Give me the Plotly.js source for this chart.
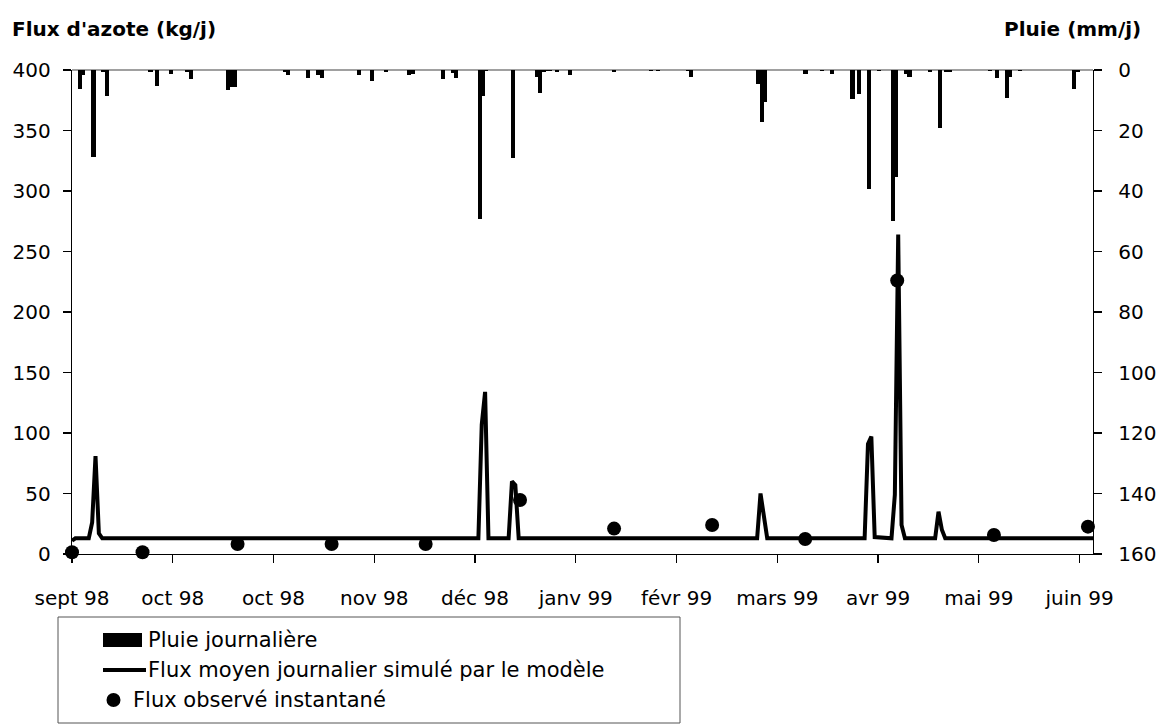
<!DOCTYPE html>
<html>
<head>
<meta charset="utf-8">
<script src="https://cdn.plot.ly/plotly-3.0.1.min.js"></script>
<style>
html,body{margin:0;padding:0;background:#ffffff;}
#chart{width:1163px;height:724px;}
</style>
</head>
<body>
<div id="chart"></div>
<script>
// ---- data (day 0 = 1 Sept 1998) ----
const tickDays   = [0, 30, 60, 90, 120, 150, 180, 210, 240, 270, 300];
const tickLabels = ['sept 98','oct 98','oct 98','nov 98','déc 98','janv 99','févr 99','mars 99','avr 99','mai 99','juin 99'];

// Daily rain (mm/j)
const rainDays = [2, 3, 6, 9, 10, 23, 25, 29, 34, 35, 46, 47, 48, 63, 64, 70, 73, 74, 85, 89, 93, 100, 101,
                  110, 113, 114, 121, 122, 123, 131, 138, 139, 140, 141, 142, 144, 148, 161, 172, 174, 183, 184,
                  204, 205, 206, 218, 223, 226, 232, 234, 237, 240, 244, 245, 248, 249, 255, 258, 260, 261,
                  273, 275, 278, 279, 282, 298, 299];
const rainMm   = [6.2, 1.8, 28.8, 0.5, 8.6, 0.7, 5.3, 1.2, 0.5, 3.1, 6.7, 5.6, 5.6, 0.6, 1.8, 2.5, 1.5, 2.6, 1.5, 3.7, 0.7, 1.5, 1.2,
                  3.1, 0.9, 2.5, 49.1, 8.7, 0.4, 29.1, 2.3, 7.5, 0.5, 0.4, 0.4, 0.5, 1.5, 0.7, 0.4, 0.4, 0.4, 2.3,
                  4.5, 17.2, 10.6, 1.2, 0.4, 1.2, 9.5, 7.8, 39.4, 0.4, 50.0, 35.4, 1.2, 2.3, 0.7, 19.1, 0.5, 0.5,
                  0.4, 2.5, 9.3, 2.3, 0.4, 6.2, 0.7];

// Simulated mean daily N flux (kg/j) – vertices of the curve
const fluxDays = [0, 1, 5, 6, 7, 8, 9, 121, 122, 123, 124, 130, 131, 132, 133, 204, 205, 206, 207,
                  236, 237, 238, 239, 244, 245, 246, 247, 248, 257, 258, 259, 260, 304];
const fluxSim  = [11, 13, 13, 26, 81, 17, 13, 13, 107, 134, 13, 13, 60, 57, 13, 13, 50, 30, 13,
                  13, 91, 97, 14, 13, 49, 264, 24, 13, 13, 35, 20, 13, 13];

// Observed instantaneous N flux (kg/j)
const obsDays = [0, 21, 49.3, 77.3, 105.3, 133.4, 161.4, 190.6, 218.3, 245.7, 274.5, 302.5];
const obsFlux = [1.5, 1.5, 8.3, 8.3, 8.3, 44.6, 21, 24, 12.4, 226, 15.7, 22.6];

const legendLabels = ['Pluie journalière', 'Flux moyen journalier simulé par le modèle', 'Flux observé instantané'];

// ---- layout helpers ----
const WIDTH = 1163, HEIGHT = 724;
const L = 72, R = 70, T = 70, B = 170;
const PW = WIDTH - L - R, PH = HEIGHT - T - B;
const px = x => (x - L) / PW;
const py = y => (T + PH - y) / PH;
const FONT = 'DejaVu Sans, Liberation Sans, Arial, sans-serif';
const FS = 20;
const LFS = 21;

const traces = [
  {
    type: 'bar', name: legendLabels[0],
    x: rainDays, y: rainMm, yaxis: 'y2',
    width: 1.25, offset: -0.25,
    marker: {color: '#000000', line: {width: 0}},
    hoverinfo: 'x+y'
  },
  {
    type: 'scatter', mode: 'lines', name: legendLabels[1],
    x: fluxDays, y: fluxSim,
    line: {color: '#000000', width: 4},
    cliponaxis: false
  },
  {
    type: 'scatter', mode: 'markers', name: legendLabels[2],
    x: obsDays, y: obsFlux,
    marker: {color: '#000000', size: 14, symbol: 'circle'},
    cliponaxis: false
  }
];

const axisCommon = {
  ticks: 'outside', ticklen: 8, tickwidth: 1.3, tickcolor: '#000',
  showline: true, linecolor: '#000', linewidth: 1.3,
  showgrid: false, zeroline: false,
  tickfont: {family: FONT, size: FS, color: '#000'}
};

const layout = {
  width: WIDTH, height: HEIGHT,
  margin: {l: L, r: R, t: T, b: B, pad: 0},
  paper_bgcolor: '#ffffff', plot_bgcolor: '#ffffff',
  showlegend: false,
  font: {family: FONT, size: FS, color: '#000'},
  bargap: 0,
  xaxis: Object.assign({}, axisCommon, {
    range: [0, 304], tickmode: 'array', tickvals: tickDays, ticktext: tickLabels,
    ticklabelstandoff: 18
  }),
  yaxis: Object.assign({}, axisCommon, {
    range: [0, 400], tick0: 0, dtick: 50, ticklabelstandoff: 8
  }),
  yaxis2: Object.assign({}, axisCommon, {
    range: [160, 0], tick0: 0, dtick: 20, overlaying: 'y', side: 'right', ticklabelstandoff: 12
  }),
  shapes: [
    // top border of plot area
    {type: 'line', xref: 'paper', yref: 'paper', x0: 0, x1: 1, y0: 1, y1: 1,
     line: {color: '#808080', width: 1.5}, layer: 'below'},
    // legend frame
    {type: 'rect', xref: 'paper', yref: 'paper', x0: px(58), x1: px(680), y0: py(617), y1: py(723),
     line: {color: '#555555', width: 1}, fillcolor: 'rgba(0,0,0,0)'},
    // legend symbols
    {type: 'rect', xref: 'paper', yref: 'paper', x0: px(103), x1: px(142), y0: py(633), y1: py(647),
     line: {width: 0}, fillcolor: '#000000'},
    {type: 'line', xref: 'paper', yref: 'paper', x0: px(103), x1: px(146), y0: py(670), y1: py(670),
     line: {color: '#000000', width: 4}},
    {type: 'circle', xref: 'paper', yref: 'paper', x0: px(106.5), x1: px(120.5), y0: py(693), y1: py(707),
     line: {width: 0}, fillcolor: '#000000'}
  ],
  annotations: [
    {xref: 'paper', yref: 'paper', x: px(10), y: py(29), xanchor: 'left', yanchor: 'middle',
     text: "<b>Flux d'azote (kg/j)</b>", showarrow: false, font: {family: FONT, size: FS, color: '#000'}},
    {xref: 'paper', yref: 'paper', x: px(1143), y: py(29), xanchor: 'right', yanchor: 'middle',
     text: '<b>Pluie (mm/j)</b>', showarrow: false, font: {family: FONT, size: FS, color: '#000'}},
    {xref: 'paper', yref: 'paper', x: px(146), y: py(640), xanchor: 'left', yanchor: 'middle',
     text: legendLabels[0], showarrow: false, font: {family: FONT, size: LFS, color: '#000'}},
    {xref: 'paper', yref: 'paper', x: px(146), y: py(670), xanchor: 'left', yanchor: 'middle',
     text: legendLabels[1], showarrow: false, font: {family: FONT, size: LFS, color: '#000'}},
    {xref: 'paper', yref: 'paper', x: px(131), y: py(700), xanchor: 'left', yanchor: 'middle',
     text: legendLabels[2], showarrow: false, font: {family: FONT, size: LFS, color: '#000'}}
  ]
};

Plotly.newPlot('chart', traces, layout, {displayModeBar: false, staticPlot: true});
</script>
</body>
</html>
